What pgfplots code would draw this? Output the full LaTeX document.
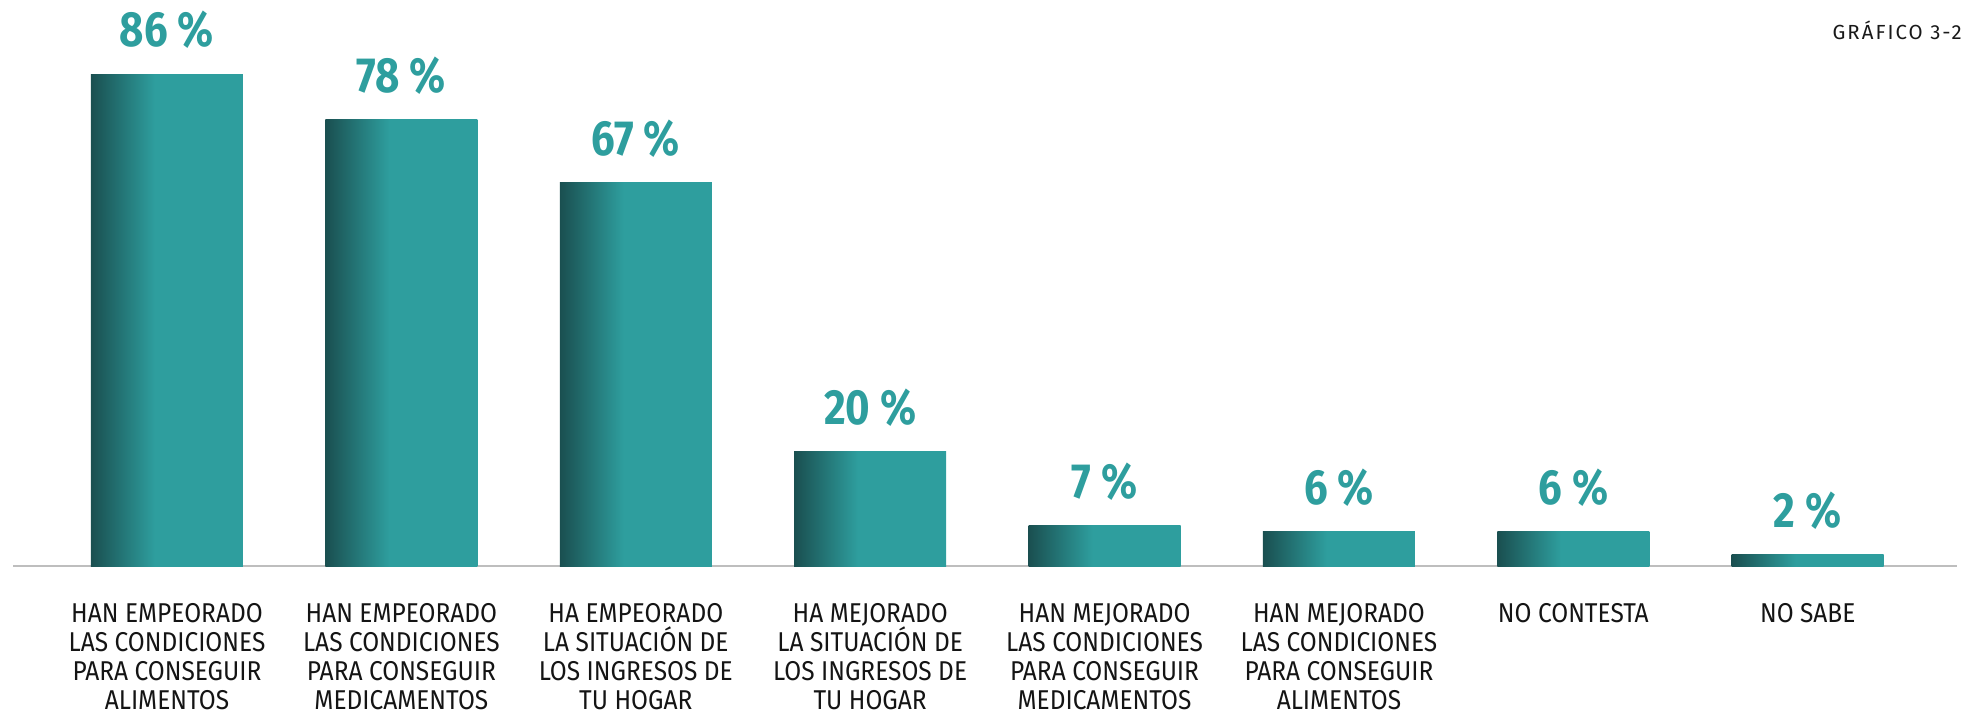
\documentclass[border=0pt]{standalone}
\usepackage{fontspec}
\setmainfont{Fira Sans}
\newfontfamily\labfont[FakeStretch=0.9]{Fira Sans}
\newfontfamily\valfont[FakeStretch=0.85]{Fira Sans}
\newfontfamily\titfont[LetterSpace=10]{Fira Sans}
\usepackage{pgfplots}
\pgfplotsset{compat=1.18}
\definecolor{bardark}{HTML}{1A4F50}
\definecolor{barteal}{HTML}{2E9E9E}
\definecolor{axisgray}{HTML}{BEBEBE}
\pgfdeclarehorizontalshading{barshade}{100bp}{color(0bp)=(bardark); color(25bp)=(bardark); color(46bp)=(barteal); color(100bp)=(barteal)}
\pgfplotsset{gbar/.style={ybar, bar width=76pt, draw=none, shading=barshade}}
\begin{document}
\begin{tikzpicture}
\begin{axis}[
  scale only axis,
  width=972pt, height=283pt,
  at={(0,0)}, anchor=south west,
  xmin=-0.657, xmax=7.637,
  ymin=0, ymax=98.95,
  hide y axis,
  axis x line*=bottom,
  x axis line style={-, draw=axisgray, line width=1pt},
  xtick={0,...,7},
  major tick length=0pt,
  xtick style={draw=none},
  xticklabels={
    {HAN EMPEORADO\\LAS CONDICIONES\\PARA CONSEGUIR\\ALIMENTOS},
    {HAN EMPEORADO\\LAS CONDICIONES\\PARA CONSEGUIR\\MEDICAMENTOS},
    {HA EMPEORADO\\LA SITUACIÓN DE\\LOS INGRESOS DE\\TU HOGAR},
    {HA MEJORADO\\LA SITUACIÓN DE\\LOS INGRESOS DE\\TU HOGAR},
    {HAN MEJORADO\\LAS CONDICIONES\\PARA CONSEGUIR\\MEDICAMENTOS},
    {HAN MEJORADO\\LAS CONDICIONES\\PARA CONSEGUIR\\ALIMENTOS},
    {NO CONTESTA},
    {NO SABE}},
  xticklabel style={anchor=north, align=center, inner sep=0pt, yshift=-18.5pt,
    font=\labfont\fontsize{13.6}{14.5}\selectfont, text=black!92},
  /pgf/number format/assume math mode=true,
  clip=false,
  nodes near coords={\pgfmathprintnumber{\pgfplotspointmeta}~\%},
  every node near coord/.append style={anchor=base, yshift=13.7pt, inner sep=0pt,
    font=\valfont\bfseries\fontsize{24.7}{28}\selectfont, text=barteal},
]
\addplot[gbar] coordinates {(0,86)};
\addplot[gbar] coordinates {(1,78)};
\addplot[gbar] coordinates {(2,67)};
\addplot[gbar] coordinates {(3,20)};
\addplot[gbar] coordinates {(4,7)};
\addplot[gbar] coordinates {(5,6)};
\addplot[gbar] coordinates {(6,6)};
\addplot[gbar] coordinates {(7,2)};
\end{axis}
\node[anchor=base east, inner sep=0pt, font=\titfont\fontsize{10.2}{12}\selectfont, text=black!90] at (974.5pt,263.5pt) {GRÁFICO 3-2};
\pgfresetboundingbox
\useasboundingbox (-6.5pt,-74pt) rectangle (977.5pt,283pt);
\end{tikzpicture}
\end{document}
